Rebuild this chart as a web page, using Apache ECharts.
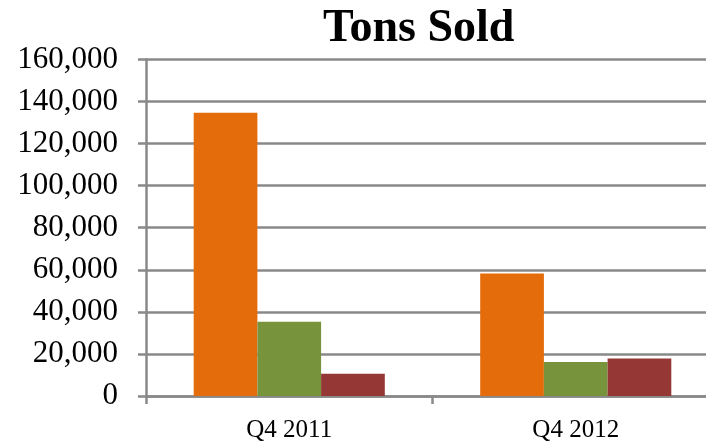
<!DOCTYPE html>
<html>
<head>
<meta charset="utf-8">
<script src="https://cdn.jsdelivr.net/npm/echarts@6/dist/echarts.min.js"></script>
<style>
html,body{margin:0;padding:0;background:#fff;overflow:hidden;width:706px;height:443px;}
#chart{width:722px;height:443px;}
</style>
</head>
<body>
<div id="chart"></div>
<script>
var categories = ['Q4 2011', 'Q4 2012'];
var seriesA = [134600, 58200];
var seriesB = [35300, 16200];
var seriesC = [10600, 17800];
var yTicks = [0, 20000, 40000, 60000, 80000, 100000, 120000, 140000, 160000];

var chart = echarts.init(document.getElementById('chart'));
var gray = '#898989';
var font = '"Liberation Serif", "Times New Roman", serif';
chart.setOption({
  animation: false,
  title: {
    text: 'Tons Sold',
    left: 318,
    top: 1,
    textStyle: {fontFamily: font, fontSize: 46, fontWeight: 'bold', color: '#000'}
  },
  grid: {left: 146, width: 573, top: 59.4, height: 338, containLabel: false},
  xAxis: {
    type: 'category',
    data: categories,
    axisLine: {lineStyle: {color: gray, width: 2.5}},
    axisTick: {show: true, length: 8, lineStyle: {color: gray, width: 2.5}},
    axisLabel: {fontFamily: font, fontSize: 25, color: '#000', margin: 22}
  },
  yAxis: {
    type: 'value',
    min: yTicks[0],
    max: yTicks[yTicks.length - 1],
    interval: yTicks[1] - yTicks[0],
    axisLine: {show: true, lineStyle: {color: gray, width: 2.5}},
    axisTick: {show: true, length: 8, lineStyle: {color: gray, width: 2.5}},
    splitLine: {show: true, lineStyle: {color: gray, width: 2.5}},
    axisLabel: {
      fontFamily: font, fontSize: 31, color: '#000', margin: 28,
      formatter: function (v) { return v.toLocaleString('en-US'); }
    }
  },
  series: [
    {type: 'bar', data: seriesA, barGap: '0%', barCategoryGap: '33.3%', itemStyle: {color: '#E46C0A'}},
    {type: 'bar', data: seriesB, barGap: '0%', barCategoryGap: '33.3%', itemStyle: {color: '#77933C'}},
    {type: 'bar', data: seriesC, barGap: '0%', barCategoryGap: '33.3%', itemStyle: {color: '#953735'}}
  ]
});
</script>
</body>
</html>
